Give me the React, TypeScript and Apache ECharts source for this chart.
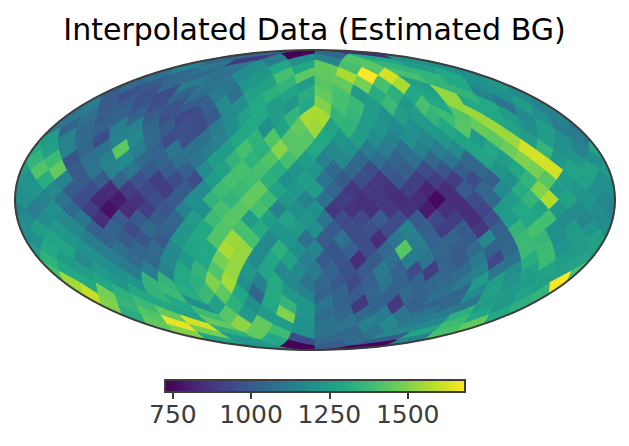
import React, { useEffect, useRef } from "react";
import * as echarts from "echarts";

const ring01 = [1050, 730, 1050, 850];
const ring02 = [1050, 880, 1120, 1200, 1150, 1420, 1300, 1200];
const ring03 = [1150, 1100, 1100, 1200, 1300, 1300, 1450, 1400, 1430, 1350, 1250, 1200];
const ring04 = [1070, 1050, 1050, 1080, 1180, 1230, 1400, 1440, 1450, 1560, 1680, 1620, 1400, 1350, 1300, 1200];
const ring05 = [1050, 1000, 1050, 1120, 1100, 1100, 1230, 1270, 1350, 1250, 1430, 1450, 1480, 1400, 1560, 1260, 1350, 1300, 1200, 1230];
const ring06 = [1000, 960, 960, 950, 1030, 1070, 1120, 1080, 1270, 1330, 1280, 1320, 1450, 1400, 1240, 1320, 1330, 1300, 1280, 1530, 1350, 1150, 1200, 1180];
const ring07 = [1130, 1000, 1010, 980, 960, 980, 1000, 1020, 1180, 1200, 1300, 1250, 1230, 1300, 1500, 1400, 1370, 1250, 1370, 1230, 1400, 1300, 1530, 1300, 1300, 1100, 1250, 1150];
const ring08 = [1100, 1080, 1000, 1030, 1030, 1010, 960, 930, 950, 1000, 1180, 1270, 1300, 1250, 1350, 1560, 1560, 1350, 1350, 1250, 1200, 1260, 1250, 1350, 1380, 1420, 1540, 1300, 1250, 1180, 1200, 1150];
const ring09 = [1100, 1030, 1050, 1020, 1130, 1150, 1050, 1000, 960, 950, 1130, 1200, 1300, 1200, 1280, 1450, 1540, 1280, 1340, 1240, 1220, 1180, 1200, 1240, 1300, 1430, 1460, 1540, 1280, 1200, 1250, 1120];
const ring10 = [1250, 1150, 1050, 950, 1150, 1170, 1050, 950, 960, 1080, 1150, 1300, 1340, 1420, 1430, 1430, 1300, 1230, 1260, 1190, 1150, 1200, 1170, 1230, 1280, 1240, 1440, 1540, 1250, 1250, 1200, 1120];
const ring11 = [1300, 1270, 1150, 1040, 1100, 1440, 1130, 1020, 1100, 1080, 1130, 1250, 1400, 1330, 1510, 1430, 1300, 1170, 1200, 1120, 1120, 1070, 1140, 1130, 1180, 1280, 1300, 1470, 1620, 1350, 1200, 1150];
const ring12 = [1350, 1380, 980, 1080, 1150, 1180, 1050, 1030, 1080, 1100, 1250, 1350, 1340, 1420, 1400, 1250, 1150, 1170, 1050, 1070, 1030, 1080, 1050, 1100, 1050, 1280, 1250, 1500, 1620, 1230, 1230, 1200];
const ring13 = [1250, 1420, 1450, 1000, 1100, 1150, 1100, 1000, 1010, 1020, 1180, 1270, 1400, 1400, 1320, 1220, 1220, 1050, 1040, 950, 1000, 1010, 950, 980, 1010, 1050, 1220, 1300, 1480, 1620, 1280, 1280];
const ring14 = [1220, 1320, 1150, 1000, 1000, 1040, 960, 900, 950, 950, 1250, 1400, 1390, 1330, 1200, 1260, 1100, 1000, 950, 880, 980, 900, 900, 900, 950, 1010, 1200, 1350, 1430, 1250, 1270, 1200];
const ring15 = [1200, 1220, 1170, 1000, 950, 850, 900, 930, 900, 1000, 1180, 1380, 1370, 1450, 1280, 1230, 1250, 1040, 880, 880, 860, 900, 820, 850, 1000, 1040, 1180, 1320, 1500, 1250, 1230, 1200];
const ring16 = [1200, 1150, 1100, 950, 840, 800, 870, 950, 1000, 1200, 1350, 1350, 1450, 1370, 1230, 1150, 1080, 900, 860, 880, 850, 850, 750, 850, 950, 1050, 1250, 1350, 1570, 1280, 1220, 1170];
const ring17 = [1150, 1130, 1200, 1060, 900, 770, 850, 900, 980, 1150, 1200, 1400, 1430, 1400, 1150, 1200, 1200, 880, 870, 860, 880, 870, 800, 860, 850, 920, 1240, 1300, 1280, 1230, 1180, 1190];
const ring18 = [1180, 1190, 1170, 1110, 850, 1000, 1000, 1000, 1040, 1250, 1370, 1430, 1250, 1260, 1280, 1220, 1100, 940, 930, 1000, 950, 1000, 930, 900, 850, 960, 1250, 1300, 1390, 1180, 1160, 1180];
const ring19 = [1200, 1260, 1240, 1170, 1020, 1030, 950, 1050, 1030, 1230, 1300, 1420, 1400, 1310, 1230, 1240, 1200, 1000, 950, 960, 950, 1150, 1020, 900, 1000, 880, 1020, 1350, 1400, 1200, 1240, 1220];
const ring20 = [1200, 1280, 1230, 1130, 1030, 1000, 980, 1000, 1230, 1290, 1420, 1540, 1400, 1170, 1220, 1080, 1000, 1080, 950, 850, 1100, 1130, 1020, 1040, 1000, 1170, 1040, 1370, 1360, 1200, 1250, 1270];
const ring21 = [1260, 1300, 1280, 1210, 1130, 1080, 1040, 1060, 1170, 1280, 1300, 1560, 1530, 1180, 1330, 1200, 1160, 980, 1020, 950, 1050, 1430, 1120, 1040, 1000, 1060, 1020, 1050, 1370, 1380, 1220, 1240];
const ring22 = [1340, 1250, 1180, 1200, 1130, 1060, 1050, 1170, 1240, 1300, 1480, 1530, 1180, 1290, 1270, 1130, 1000, 980, 850, 1000, 1080, 1130, 1100, 1030, 1000, 1120, 930, 1090, 1320, 1370, 1250, 1280];
const ring23 = [1400, 1300, 1260, 1240, 1200, 1120, 1130, 1150, 1300, 1350, 1420, 1530, 1230, 1280, 1170, 1170, 1120, 1030, 960, 1000, 1120, 1030, 950, 900, 1040, 1060, 1150, 1100, 1200, 1270, 1280, 1270];
const ring24 = [1550, 1300, 1290, 1230, 1220, 1350, 1350, 1300, 1330, 1500, 1550, 1200, 1150, 1310, 1170, 1090, 1040, 990, 940, 1020, 1100, 1030, 1030, 1050, 1060, 1120, 1250, 1250, 1220, 1250, 1260, 1680];
const ring25 = [1600, 1480, 1330, 1300, 1350, 1370, 1320, 1370, 1440, 1300, 1050, 1310, 1230, 1150, 1030, 1030, 1000, 1040, 1020, 1060, 1030, 1080, 1030, 1180, 1270, 1240, 1280, 1350];
const ring26 = [1500, 1350, 1370, 1300, 1300, 1200, 1270, 1330, 1200, 1300, 1350, 1230, 1100, 1020, 880, 1030, 880, 1020, 1030, 1050, 1100, 1250, 1230, 1330];
const ring27 = [1320, 1420, 1450, 1280, 1380, 1430, 1240, 1240, 1500, 1220, 1060, 1050, 1050, 1120, 1100, 1100, 1120, 1330, 1290, 1300];
const ring28 = [1450, 1650, 1620, 1450, 1520, 1450, 1250, 1200, 1090, 1100, 1150, 1170, 1130, 1180, 1380, 1450];
const ring29 = [1500, 1480, 1330, 1450, 1380, 1210, 1080, 1050, 1100, 1170, 1280, 1400];
const ring30 = [1280, 1230, 1300, 950, 1050, 1060, 1000, 1150];
const ring31 = [1230, 730, 1000, 740];
const rings = [ring01, ring02, ring03, ring04, ring05, ring06, ring07, ring08, ring09, ring10, ring11, ring12, ring13, ring14, ring15, ring16, ring17, ring18, ring19, ring20, ring21, ring22, ring23, ring24, ring25, ring26, ring27, ring28, ring29, ring30, ring31];

const NSIDE = 8;
const colorTicks = [750, 1000, 1250, 1500];
const colorMin = 725;
const colorMax = 1683;
const viridis = ["#440154", "#482475", "#414487", "#355f8d", "#2a788e", "#21918c", "#22a884", "#44bf70", "#7ad151", "#bddf26", "#fde725"];
const titleText = "Interpolated Data (Estimated BG)";
const INK = "#3d3d3d";

const PI = Math.PI;
const D = PI / (4 * NSIDE);
const R2 = Math.SQRT2;

function mollweide(phi: number, z: number): [number, number] {
  const target = PI * z;
  let t = Math.asin(Math.max(-1, Math.min(1, z)));
  if (Math.abs(z) < 0.99999) {
    for (let k = 0; k < 30; k++) {
      const f = 2 * t + Math.sin(2 * t) - target;
      const df = 2 + 2 * Math.cos(2 * t);
      if (df < 1e-6) break;
      const nt = t - f / df;
      t = Math.max(-PI / 2, Math.min(PI / 2, nt));
    }
  } else {
    t = (Math.sign(z) * PI) / 2;
  }
  return [((2 * R2) / PI) * phi * Math.cos(t), R2 * Math.sin(t)];
}

// HEALPix projection plane -> sphere -> Mollweide
function planeToMoll(xs: number, ys: number, xc: number): [number, number] {
  const a = Math.abs(ys);
  if (a <= PI / 4 + 1e-12) {
    return mollweide(xs, (8 * ys) / (3 * PI));
  }
  const q = (PI / 2 - a) / (PI / 4);
  const z = Math.sign(ys) * (1 - (q * q) / 3);
  const phi = q < 1e-9 ? xc : xc + (xs - xc) / q;
  return mollweide(phi, z);
}

function pixelOutlines(ringIdx: number, j: number): [number, number][][] {
  const i = ringIdx + 1;
  const ys = PI / 2 - i * D;
  let xs: number;
  const cap = i <= NSIDE ? i : i >= 3 * NSIDE ? 4 * NSIDE - i : 0;
  let xc = 0;
  if (cap > 0) {
    const k = Math.floor(j / cap);
    const m = j % cap;
    xc = -PI + ((2 * k + 1) * PI) / 4;
    xs = xc + (2 * m - (cap - 1)) * D;
  } else {
    xs = -PI + j * 2 * D + (i % 2 === 0 ? D : 0);
    const k = Math.floor(((xs + PI) / PI) * 2);
    xc = -PI + ((2 * k + 1) * PI) / 4;
  }
  const build = (cx: number, lx: number, rx: number) => {
    const corners: [number, number][] = [
      [cx, ys + D],
      [rx, ys],
      [cx, ys - D],
      [lx, ys],
    ];
    const pts: [number, number][] = [];
    for (let c = 0; c < 4; c++) {
      const a = corners[c];
      const b = corners[(c + 1) % 4];
      for (let s = 0; s < 6; s++) {
        const u = s / 6;
        pts.push(planeToMoll(a[0] + (b[0] - a[0]) * u, a[1] + (b[1] - a[1]) * u, xc));
      }
    }
    return pts;
  };
  if (cap === 0 && i % 2 === 1 && j === 0) {
    return [build(-PI, -PI, -PI + D), build(PI, PI - D, PI)];
  }
  return [build(xs, xs - D, xs + D)];
}

const pixelData: number[][] = [];
rings.forEach((vals, r) => vals.forEach((v, j) => pixelData.push([r, j, v])));

export default function App() {
  const ref = useRef<HTMLDivElement>(null);
  useEffect(() => {
    const chart = echarts.init(ref.current!, undefined, { renderer: "svg" });
    const stops = viridis.map((c, k) => ({ offset: k / (viridis.length - 1), color: c }));
    chart.setOption({
      animation: false,
      backgroundColor: "#ffffff",
      title: {
        text: titleText,
        left: "center",
        top: 9,
        textStyle: { fontFamily: "DejaVu Sans", fontSize: 30, fontWeight: "normal", color: "#000000" },
      },
      visualMap: {
        show: false,
        min: colorMin,
        max: colorMax,
        dimension: 2,
        seriesIndex: 0,
        inRange: { color: viridis },
      },
      grid: [
        { left: 15, top: 50, width: 600, height: 300 },
        { left: 165, top: 380, width: 300, height: 12 },
      ],
      xAxis: [
        { type: "value", gridIndex: 0, min: -2 * R2, max: 2 * R2, show: false },
        {
          type: "value",
          gridIndex: 1,
          min: colorMin,
          max: colorMax,
          position: "bottom",
          splitLine: { show: false },
          axisLine: { show: false },
          axisTick: { show: true, length: 7, customValues: colorTicks, lineStyle: { color: INK, width: 2 } },
          axisLabel: {
            customValues: colorTicks,
            formatter: (v: number) => String(v),
            fontFamily: "DejaVu Sans",
            fontSize: 25,
            color: INK,
            margin: 10,
            hideOverlap: false,
          },
        },
      ],
      yAxis: [
        { type: "value", gridIndex: 0, min: -R2, max: R2, show: false },
        { type: "value", gridIndex: 1, min: 0, max: 1, show: false },
      ],
      series: [
        {
          type: "custom",
          xAxisIndex: 0,
          yAxisIndex: 0,
          clip: false,
          silent: true,
          data: pixelData,
          renderItem: (_p: any, api: any) => {
            const color = api.visual("color");
            const outlines = pixelOutlines(api.value(0), api.value(1));
            return {
              type: "group",
              children: outlines.map((o) => ({
                type: "polygon",
                shape: { points: o.map((pt) => api.coord(pt)) },
                style: { fill: color, stroke: color, lineWidth: 1 },
              })),
            };
          },
        },
        {
          type: "custom",
          xAxisIndex: 0,
          yAxisIndex: 0,
          clip: false,
          silent: true,
          data: [[0, 0]],
          renderItem: (_p: any, api: any) => {
            const c = api.coord([0, 0]);
            const e = api.coord([2 * R2, R2]);
            return {
              type: "ellipse",
              shape: { cx: c[0], cy: c[1], rx: e[0] - c[0], ry: c[1] - e[1] },
              style: { fill: "none", stroke: INK, lineWidth: 2 },
            };
          },
        },
        {
          type: "custom",
          xAxisIndex: 1,
          yAxisIndex: 1,
          clip: false,
          silent: true,
          data: [[colorMin, 0]],
          renderItem: (_p: any, api: any) => {
            const a = api.coord([colorMin, 1]);
            const b = api.coord([colorMax, 0]);
            return {
              type: "rect",
              shape: { x: a[0], y: a[1], width: b[0] - a[0], height: b[1] - a[1] },
              style: {
                fill: new echarts.graphic.LinearGradient(0, 0, 1, 0, stops),
                stroke: INK,
                lineWidth: 2,
              },
            };
          },
        },
      ],
    });
    return () => chart.dispose();
  }, []);
  return <div ref={ref} style={{ position: "absolute", left: 0, top: 0, width: 629, height: 446 }} />;
}
